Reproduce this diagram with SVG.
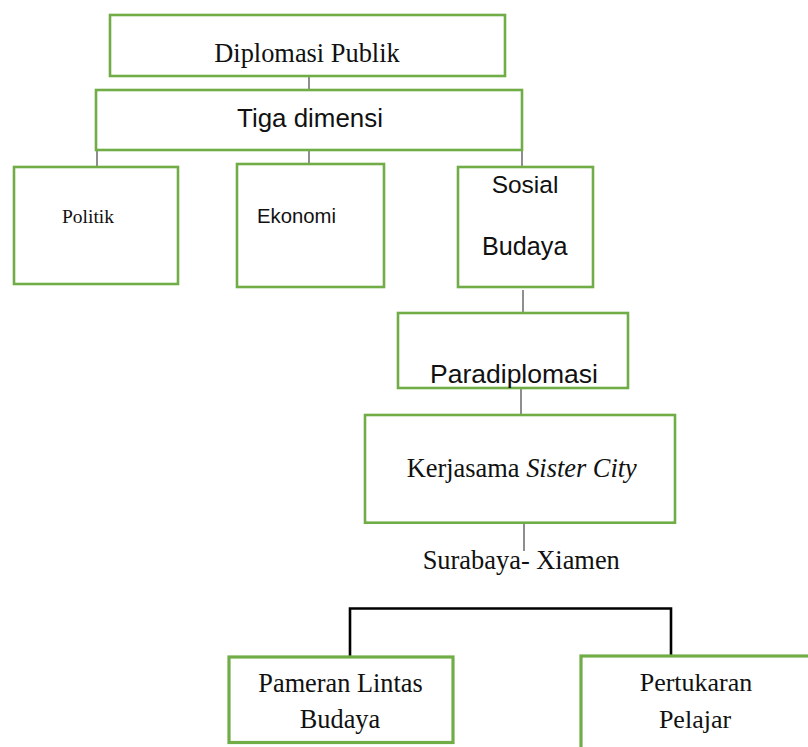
<svg xmlns="http://www.w3.org/2000/svg" width="808" height="747" viewBox="0 0 808 747">
<style>
.box{fill:#fff;stroke:#70AD47;stroke-width:2.6;stroke-linecap:round}
.thick{stroke-width:3.2}
.ser{font-family:"Liberation Serif","Times New Roman",serif;fill:#111}
.san{font-family:"Liberation Sans",Arial,sans-serif;fill:#111}
.con{fill:none;stroke:#444;stroke-width:1.2}
.brk{fill:none;stroke:#000;stroke-width:2.6}
</style>
<rect width="808" height="747" fill="#fff"/>
<g id="connectors">
<line class="con" x1="309" y1="76" x2="309" y2="90"/>
<line class="con" x1="97" y1="150" x2="97" y2="167"/>
<line class="con" x1="309" y1="150" x2="309" y2="164"/>
<line class="con" x1="522" y1="150" x2="522" y2="167"/>
<line class="con" x1="523" y1="290" x2="523" y2="313"/>
<line class="con" x1="521" y1="388" x2="521" y2="415"/>
<line class="con" x1="524" y1="523" x2="524" y2="551"/>
<path class="brk" d="M350,657 V608.5 H671 V655"/>
</g>
<g id="diplomasi-publik">
<rect class="box" x="110" y="15" width="395" height="61"/>
<text class="ser" x="307" y="61.7" font-size="26.4" text-anchor="middle">Diplomasi Publik</text>
</g>
<g id="tiga-dimensi">
<rect class="box" x="96" y="90" width="426" height="60"/>
<text class="san" x="310" y="126.7" font-size="25.9" text-anchor="middle">Tiga dimensi</text>
</g>
<g id="politik">
<rect class="box" x="14" y="167" width="164" height="117"/>
<text class="ser" x="62" y="223" font-size="19.5">Politik</text>
</g>
<g id="ekonomi">
<rect class="box" x="237" y="164" width="147" height="123"/>
<text class="san" x="257" y="222.7" font-size="20.3">Ekonomi</text>
</g>
<g id="sosial-budaya">
<rect class="box" x="458" y="167" width="135" height="120"/>
<text class="san" x="525" y="192.7" font-size="24.5" text-anchor="middle">Sosial</text>
<text class="san" x="524.7" y="255" font-size="25.2" text-anchor="middle">Budaya</text>
</g>
<g id="paradiplomasi">
<rect class="box" x="398" y="313" width="230" height="75"/>
<text class="san" x="514" y="383.3" font-size="26.5" text-anchor="middle">Paradiplomasi</text>
</g>
<g id="kerjasama">
<rect class="box" x="365" y="415" width="310" height="107.7"/>
<text class="ser" x="406.7" y="477.3" font-size="26.4">Kerjasama <tspan font-style="italic">Sister City</tspan></text>
</g>
<g id="surabaya-xiamen">
<text class="ser" x="422.7" y="569.3" font-size="26.4">Surabaya- Xiamen</text>
</g>
<g id="pameran">
<rect class="box thick" x="229" y="657" width="224" height="85.5"/>
<text class="ser" x="340.5" y="691.7" font-size="26.3" text-anchor="middle">Pameran Lintas</text>
<text class="ser" x="340" y="728.3" font-size="26.3" text-anchor="middle">Budaya</text>
</g>
<g id="pertukaran">
<rect class="box thick" x="581" y="656" width="240" height="110"/>
<text class="ser" x="696" y="691" font-size="26" text-anchor="middle">Pertukaran</text>
<text class="ser" x="695" y="728.3" font-size="26" text-anchor="middle">Pelajar</text>
</g>
</svg>
